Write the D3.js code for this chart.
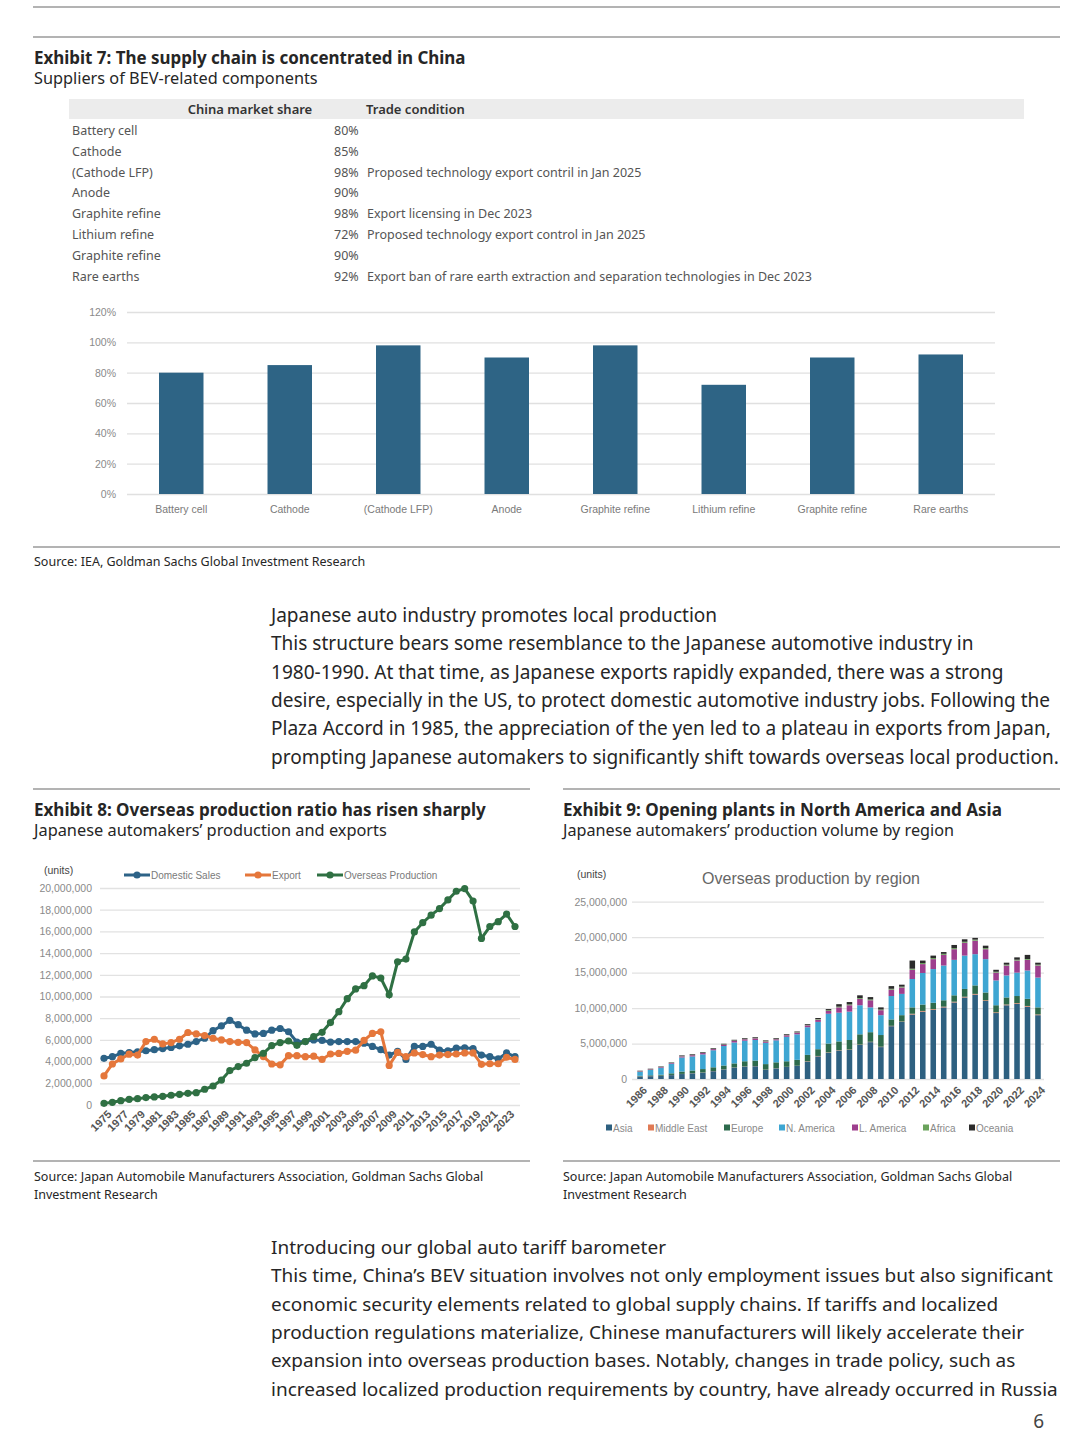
<!DOCTYPE html>
<html>
<head>
<meta charset="utf-8">
<script src="https://cdn.jsdelivr.net/npm/d3@7"></script>
<style>
  body { margin: 0; background: #fff; }
  svg { display: block; }
  text { font-family: "Noto Sans", "Open Sans", sans-serif; }
  .chart text { font-family: "Liberation Sans", Arial, sans-serif; }
</style>
</head>
<body>
<svg id="page" width="1080" height="1448"></svg>
<script>
// ---- Exhibit 7 data ----
const supplyItems = ['Battery cell', 'Cathode', '(Cathode LFP)', 'Anode', 'Graphite refine', 'Lithium refine', 'Graphite refine', 'Rare earths'];
const chinaShare = [0.80, 0.85, 0.98, 0.90, 0.98, 0.72, 0.90, 0.92];
const tradeCondition = ['', '', 'Proposed technology export contril in Jan 2025', '', 'Export licensing in Dec 2023',
  'Proposed technology export control in Jan 2025', '', 'Export ban of rare earth extraction and separation technologies in Dec 2023'];
const shareTicks = [0, 0.2, 0.4, 0.6, 0.8, 1.0, 1.2];

// ---- Exhibit 8 data (units, millions) ----
const years8 = d3.range(1975, 2025);
const domesticSales = [4.30, 4.45, 4.75, 4.83, 4.90, 5.00, 5.10, 5.20, 5.30, 5.45, 5.60, 5.85, 6.15, 6.85, 7.30, 7.80, 7.40, 6.90, 6.55, 6.60,
  6.90, 7.05, 6.75, 5.80, 5.85, 6.00, 5.95, 5.80, 5.85, 5.85, 5.85, 5.70, 5.40, 5.10, 4.60, 4.95, 4.20, 5.40, 5.40, 5.60,
  5.05, 4.98, 5.25, 5.27, 5.20, 4.60, 4.45, 4.25, 4.80, 4.45];
const exportUnits = [2.68, 3.78, 4.25, 4.68, 4.60, 5.85, 6.06, 5.63, 5.75, 6.06, 6.68, 6.55, 6.40, 6.15, 6.00, 5.85, 5.78, 5.75, 5.08, 4.46,
  3.78, 3.70, 4.55, 4.55, 4.45, 4.50, 4.20, 4.70, 4.75, 4.95, 5.05, 5.95, 6.60, 6.75, 3.65, 4.85, 4.45, 4.80, 4.65, 4.45,
  4.60, 4.65, 4.70, 4.80, 4.80, 3.75, 3.80, 3.80, 4.40, 4.20];
const overseasProduction = [0.15, 0.25, 0.40, 0.52, 0.58, 0.68, 0.74, 0.80, 0.90, 0.98, 1.08, 1.14, 1.45, 1.75, 2.30, 3.17, 3.54, 3.85, 4.37, 4.77,
  5.48, 5.75, 5.90, 5.50, 5.85, 6.30, 6.70, 7.60, 8.60, 9.80, 10.70, 11.00, 11.90, 11.70, 10.15, 13.20, 13.45, 15.95, 16.80, 17.50,
  18.10, 18.90, 19.70, 19.95, 18.80, 15.35, 16.45, 16.90, 17.60, 16.45];
const unitTicks8 = [0, 2, 4, 6, 8, 10, 12, 14, 16, 18, 20];

// ---- Exhibit 9 data (units, millions) ----
const years9 = d3.range(1986, 2025);
const regions = ['Asia', 'Middle East', 'Europe', 'N. America', 'L. America', 'Africa', 'Oceania'];
const asiaProd = [0.35, 0.40, 0.45, 0.55, 0.70, 0.80, 0.90, 1.10, 1.35, 1.60, 1.75, 1.80, 1.30, 1.50, 1.70, 1.85, 2.45, 3.20, 3.70, 4.00,
  4.10, 4.80, 5.20, 4.50, 7.45, 8.05, 9.10, 9.50, 9.75, 10.10, 10.80, 11.50, 11.90, 11.00, 9.30, 10.40, 10.60, 10.20, 9.00];
const middleEastProd = [0.02, 0.02, 0.02, 0.02, 0.02, 0.02, 0.02, 0.02, 0.02, 0.02, 0.02, 0.02, 0.02, 0.02, 0.02, 0.02, 0.05, 0.05, 0.05, 0.05,
  0.05, 0.05, 0.05, 0.05, 0.05, 0.05, 0.10, 0.10, 0.10, 0.10, 0.10, 0.10, 0.10, 0.10, 0.10, 0.10, 0.10, 0.10, 0.10];
const europeProd = [0.08, 0.10, 0.13, 0.23, 0.33, 0.38, 0.48, 0.53, 0.53, 0.58, 0.73, 0.78, 0.78, 0.83, 0.78, 0.83, 0.90, 0.95, 1.25, 1.25,
  1.35, 1.45, 1.35, 1.65, 0.90, 0.90, 0.90, 0.90, 0.90, 0.90, 0.90, 1.10, 1.20, 1.10, 1.00, 1.00, 1.00, 1.00, 1.00];
const nAmericaProd = [0.55, 0.75, 0.98, 1.35, 1.98, 1.98, 2.07, 2.40, 2.75, 2.95, 2.90, 2.90, 3.00, 3.10, 3.45, 3.60, 3.90, 3.85, 4.20, 4.05,
  4.00, 4.10, 3.50, 2.80, 3.30, 3.00, 4.00, 4.45, 4.75, 4.90, 5.00, 4.70, 4.40, 4.70, 3.50, 3.10, 3.30, 4.00, 4.20];
const lAmericaProd = [0.08, 0.09, 0.10, 0.10, 0.17, 0.18, 0.19, 0.17, 0.18, 0.22, 0.21, 0.24, 0.18, 0.16, 0.22, 0.24, 0.27, 0.33, 0.40, 0.75,
  0.90, 0.90, 1.00, 0.70, 0.90, 0.90, 1.30, 1.25, 1.40, 1.50, 1.50, 1.80, 1.90, 1.40, 1.10, 1.40, 1.70, 1.50, 1.70];
const africaProd = [0.03, 0.03, 0.04, 0.04, 0.05, 0.05, 0.05, 0.05, 0.05, 0.06, 0.06, 0.06, 0.06, 0.06, 0.06, 0.06, 0.07, 0.08, 0.10, 0.10,
  0.12, 0.12, 0.12, 0.10, 0.12, 0.12, 0.15, 0.15, 0.15, 0.15, 0.15, 0.15, 0.15, 0.15, 0.12, 0.12, 0.12, 0.12, 0.12];
const oceaniaProd = [0.06, 0.06, 0.06, 0.06, 0.08, 0.09, 0.09, 0.09, 0.09, 0.10, 0.10, 0.10, 0.10, 0.10, 0.10, 0.10, 0.11, 0.14, 0.16, 0.35,
  0.33, 0.38, 0.33, 0.30, 0.38, 0.28, 1.15, 0.35, 0.35, 0.25, 0.45, 0.35, 0.25, 0.35, 0.28, 0.28, 0.33, 0.58, 0.28];
const unitTicks9 = [0, 5, 10, 15, 20, 25];

const svg = d3.select('#page');
const ruleColor = '#9a9a9a';
const textColor = '#262626';

function rule(x1, x2, y) {
  svg.append('line').attr('x1', x1).attr('x2', x2).attr('y1', y).attr('y2', y)
    .attr('stroke', ruleColor).attr('stroke-width', 1.5);
}

// scale a text's font size so its rendered width matches a target
function fitWidth(sel, width) {
  const len = sel.node().getComputedTextLength();
  const fs = parseFloat(sel.attr('font-size'));
  sel.attr('font-size', (fs * width / len).toFixed(2));
}

function header(x, y, title, subtitle, titleWidth, subWidth) {
  const t = svg.append('text').attr('x', x).attr('y', y).attr('font-size', 17)
    .attr('font-weight', 700).attr('fill', textColor).text(title);
  fitWidth(t, titleWidth);
  const s = svg.append('text').attr('x', x).attr('y', y + 20).attr('font-size', 16)
    .attr('fill', textColor).text(subtitle);
  fitWidth(s, subWidth);
}

function paragraph(x, y, heading, lines, refWidth) {
  const h = svg.append('text').attr('x', x).attr('y', y).attr('font-size', 20)
    .attr('fill', textColor).text(heading);
  const g = svg.append('g');
  const ts = g.selectAll('text').data(lines).join('text')
    .attr('x', x).attr('y', (d, i) => y + 28.3 * (i + 1))
    .attr('font-size', 20).attr('fill', textColor).text(d => d);
  const longest = d3.max(ts.nodes(), n => n.getComputedTextLength());
  const fs = (20 * refWidth / longest).toFixed(2);
  ts.attr('font-size', fs);
  h.attr('font-size', fs);
}

// ---- page rules ----
rule(33, 1060, 7);
rule(33, 1060, 37);

// ---- Exhibit 7 ----
header(34, 64, 'Exhibit 7: The supply chain is concentrated in China', 'Suppliers of BEV-related components', 432, 284);

svg.append('rect').attr('x', 69).attr('y', 99).attr('width', 955).attr('height', 20).attr('fill', '#ececec');
svg.append('text').attr('x', 250).attr('y', 114).attr('text-anchor', 'middle').attr('font-size', 13)
  .attr('font-weight', 600).attr('fill', '#333').text('China market share');
svg.append('text').attr('x', 366).attr('y', 114).attr('font-size', 13)
  .attr('font-weight', 600).attr('fill', '#333').text('Trade condition');

const rows = svg.append('g').selectAll('g').data(supplyItems).join('g')
  .attr('transform', (d, i) => `translate(0,${135 + i * 20.8})`)
  .attr('font-size', 12.5).attr('fill', '#555');
rows.append('text').attr('x', 72).text(d => d);
rows.append('text').attr('x', 334).text((d, i) => d3.format('.0%')(chinaShare[i]));
rows.append('text').attr('x', 367).text((d, i) => tradeCondition[i]);

const c7 = svg.append('g').attr('class', 'chart');
const x7 = d3.scaleBand().domain(d3.range(supplyItems.length)).range([127, 995]).paddingInner(0.59).paddingOuter(0.295);
const y7 = d3.scaleLinear().domain([0, 1.2]).range([494, 312]);

c7.append('g').attr('transform', 'translate(127,0)')
  .call(d3.axisLeft(y7).tickValues(shareTicks).tickSize(-868).tickFormat(''))
  .call(g => g.select('.domain').remove())
  .call(g => g.selectAll('line').attr('stroke', '#e0e0e0').attr('stroke-width', 1.3));
c7.append('g').attr('transform', 'translate(116,0)')
  .call(d3.axisLeft(y7).tickValues(shareTicks).tickSize(0).tickPadding(0).tickFormat(d3.format('.0%')))
  .call(g => g.select('.domain').remove())
  .call(g => g.selectAll('text').attr('font-size', 10.5).attr('fill', '#8a8a8a'));
c7.selectAll('rect.bar').data(chinaShare).join('rect').attr('class', 'bar')
  .attr('x', (d, i) => x7(i)).attr('width', x7.bandwidth())
  .attr('y', d => y7(d)).attr('height', d => y7(0) - y7(d)).attr('fill', '#2e6485');
c7.append('g').attr('transform', 'translate(0,494)')
  .call(d3.axisBottom(x7).tickSize(0).tickPadding(12).tickFormat(i => supplyItems[i]))
  .call(g => g.select('.domain').remove())
  .call(g => g.selectAll('text').attr('font-size', 10.5).attr('fill', '#7a7a7a'));

rule(33, 1060, 547);
svg.append('text').attr('x', 34).attr('y', 566).attr('font-size', 12.5).attr('fill', textColor)
  .text('Source: IEA, Goldman Sachs Global Investment Research');

// ---- Paragraph 1 ----
paragraph(271, 622, 'Japanese auto industry promotes local production', [
  'This structure bears some resemblance to the Japanese automotive industry in',
  '1980-1990. At that time, as Japanese exports rapidly expanded, there was a strong',
  'desire, especially in the US, to protect domestic automotive industry jobs. Following the',
  'Plaza Accord in 1985, the appreciation of the yen led to a plateau in exports from Japan,',
  'prompting Japanese automakers to significantly shift towards overseas local production.'
], 788);

// ---- Exhibit 8 ----
rule(33, 530, 789);
header(34, 816, 'Exhibit 8: Overseas production ratio has risen sharply', 'Japanese automakers\u2019 production and exports', 452, 353);

const c8 = svg.append('g').attr('class', 'chart');
const x8 = d3.scaleLinear().domain([1975, 2024]).range([104, 515]);
const y8 = d3.scaleLinear().domain([0, 20]).range([1105, 888]);

c8.append('g').attr('transform', 'translate(100,0)')
  .call(d3.axisLeft(y8).tickValues(unitTicks8).tickSize(-420).tickFormat(''))
  .call(g => g.select('.domain').remove())
  .call(g => g.selectAll('line').attr('stroke', '#e2e2e2').attr('stroke-width', 1.3));
c8.append('g').attr('transform', 'translate(92,0)')
  .call(d3.axisLeft(y8).tickValues(unitTicks8).tickSize(0).tickPadding(0).tickFormat(d => d3.format(',')(d * 1e6)))
  .call(g => g.select('.domain').remove())
  .call(g => g.selectAll('text').attr('font-size', 10.5).attr('fill', '#8a8a8a'));
c8.append('text').attr('x', 44).attr('y', 874).attr('font-size', 10.5).attr('fill', '#444').text('(units)');

c8.append('g').attr('transform', 'translate(0,1111)')
  .call(d3.axisBottom(x8).tickValues(years8.filter(y => (y - 1975) % 2 === 0)).tickSize(0).tickPadding(0).tickFormat(d3.format('d')))
  .call(g => g.select('.domain').remove())
  .call(g => g.selectAll('text').attr('font-size', 11).attr('font-weight', 700).attr('fill', '#555')
    .attr('text-anchor', 'end').attr('dy', '0.5em').attr('transform', 'translate(4,0) rotate(-45)'));

const series8 = [
  { name: 'Domestic Sales', values: domesticSales, color: '#2d6387' },
  { name: 'Export', values: exportUnits, color: '#e5773b' },
  { name: 'Overseas Production', values: overseasProduction, color: '#2f7043' }
];
const line8 = d3.line().x((d, i) => x8(years8[i])).y(d => y8(d));
const sg = c8.selectAll('g.series').data(series8).join('g').attr('class', 'series');
sg.append('path').attr('d', d => line8(d.values)).attr('fill', 'none')
  .attr('stroke', d => d.color).attr('stroke-width', 3);
sg.each(function(s) {
  d3.select(this).selectAll('circle').data(s.values).join('circle')
    .attr('cx', (d, i) => x8(years8[i])).attr('cy', d => y8(d)).attr('r', 3.6).attr('fill', s.color);
});

const legend8X = [124, 245, 317];
const lg8 = c8.selectAll('g.lg').data(series8).join('g').attr('class', 'lg')
  .attr('transform', (d, i) => `translate(${legend8X[i]},875)`);
lg8.append('line').attr('x1', 0).attr('x2', 26).attr('stroke', d => d.color).attr('stroke-width', 3);
lg8.append('circle').attr('cx', 13).attr('r', 3.6).attr('fill', d => d.color);
lg8.append('text').attr('x', 27).attr('dy', '0.35em').attr('font-size', 10).attr('fill', '#7a7a7a').text(d => d.name);

rule(33, 530, 1161);
svg.append('text').attr('x', 34).attr('y', 1181).attr('font-size', 12.5).attr('fill', textColor)
  .text('Source: Japan Automobile Manufacturers Association, Goldman Sachs Global');
svg.append('text').attr('x', 34).attr('y', 1199).attr('font-size', 12.5).attr('fill', textColor)
  .text('Investment Research');

// ---- Exhibit 9 ----
rule(563, 1060, 789);
header(563, 816, 'Exhibit 9: Opening plants in North America and Asia', 'Japanese automakers\u2019 production volume by region', 439, 391);

const c9 = svg.append('g').attr('class', 'chart');
const x9 = d3.scaleBand().domain(years9).range([634.8, 1043.2]).paddingInner(0.47).paddingOuter(0.235);
const y9 = d3.scaleLinear().domain([0, 25]).range([1079, 901.7]);

c9.append('g').attr('transform', 'translate(632,0)')
  .call(d3.axisLeft(y9).tickValues(unitTicks9).tickSize(-412).tickFormat(''))
  .call(g => g.select('.domain').remove())
  .call(g => g.selectAll('line').attr('stroke', '#e2e2e2').attr('stroke-width', 1.3));
c9.append('g').attr('transform', 'translate(627,0)')
  .call(d3.axisLeft(y9).tickValues(unitTicks9).tickSize(0).tickPadding(0).tickFormat(d => d3.format(',')(d * 1e6)))
  .call(g => g.select('.domain').remove())
  .call(g => g.selectAll('text').attr('font-size', 10.5).attr('fill', '#8a8a8a'));
c9.append('text').attr('x', 577).attr('y', 878).attr('font-size', 10.5).attr('fill', '#444').text('(units)');
c9.append('text').attr('x', 811).attr('y', 884).attr('text-anchor', 'middle').attr('font-size', 16)
  .attr('fill', '#666').text('Overseas production by region');

const regionValues = [asiaProd, middleEastProd, europeProd, nAmericaProd, lAmericaProd, africaProd, oceaniaProd];
const regionColors = ['#2e6080', '#e07a55', '#2d6a4c', '#3ea6d2', '#9e3f8e', '#6aa35c', '#2b2b2b'];
const table9 = years9.map((yr, i) => {
  const row = { year: yr };
  regions.forEach((r, k) => { row[r] = regionValues[k][i]; });
  return row;
});
const stack9 = d3.stack().keys(regions)(table9);
c9.selectAll('g.layer').data(stack9).join('g').attr('class', 'layer')
  .attr('fill', (d, i) => regionColors[i])
  .selectAll('rect').data(d => d).join('rect')
  .attr('x', d => x9(d.data.year)).attr('width', x9.bandwidth())
  .attr('y', d => y9(d[1])).attr('height', d => y9(d[0]) - y9(d[1]));

c9.append('g').attr('transform', 'translate(0,1087)')
  .call(d3.axisBottom(x9).tickValues(years9.filter(y => (y - 1986) % 2 === 0)).tickSize(0).tickPadding(0))
  .call(g => g.select('.domain').remove())
  .call(g => g.selectAll('text').attr('font-size', 11).attr('font-weight', 700).attr('fill', '#555')
    .attr('text-anchor', 'end').attr('dy', '0.5em').attr('transform', 'translate(4,0) rotate(-45)'));

const legend9X = [606, 648, 724, 779, 852, 923, 969];
const lg9 = c9.selectAll('g.lg').data(regions).join('g').attr('class', 'lg')
  .attr('transform', (d, i) => `translate(${legend9X[i]},1128)`);
lg9.append('rect').attr('x', 0).attr('y', -3.5).attr('width', 6).attr('height', 6).attr('fill', (d, i) => regionColors[i]);
lg9.append('text').attr('x', 7).attr('dy', '0.35em').attr('font-size', 10).attr('fill', '#8a8a8a').text(d => d);

rule(563, 1060, 1161);
svg.append('text').attr('x', 563).attr('y', 1181).attr('font-size', 12.5).attr('fill', textColor)
  .text('Source: Japan Automobile Manufacturers Association, Goldman Sachs Global');
svg.append('text').attr('x', 563).attr('y', 1199).attr('font-size', 12.5).attr('fill', textColor)
  .text('Investment Research');

// ---- Paragraph 2 ----
paragraph(271, 1254, 'Introducing our global auto tariff barometer', [
  'This time, China\u2019s BEV situation involves not only employment issues but also significant',
  'economic security elements related to global supply chains. If tariffs and localized',
  'production regulations materialize, Chinese manufacturers will likely accelerate their',
  'expansion into overseas production bases. Notably, changes in trade policy, such as',
  'increased localized production requirements by country, have already occurred in Russia'
], 787);

svg.append('text').attr('x', 1044).attr('y', 1428).attr('text-anchor', 'end').attr('font-size', 19)
  .attr('font-family', '"DejaVu Serif", serif').attr('fill', '#444').text('6');
</script>
</body>
</html>
